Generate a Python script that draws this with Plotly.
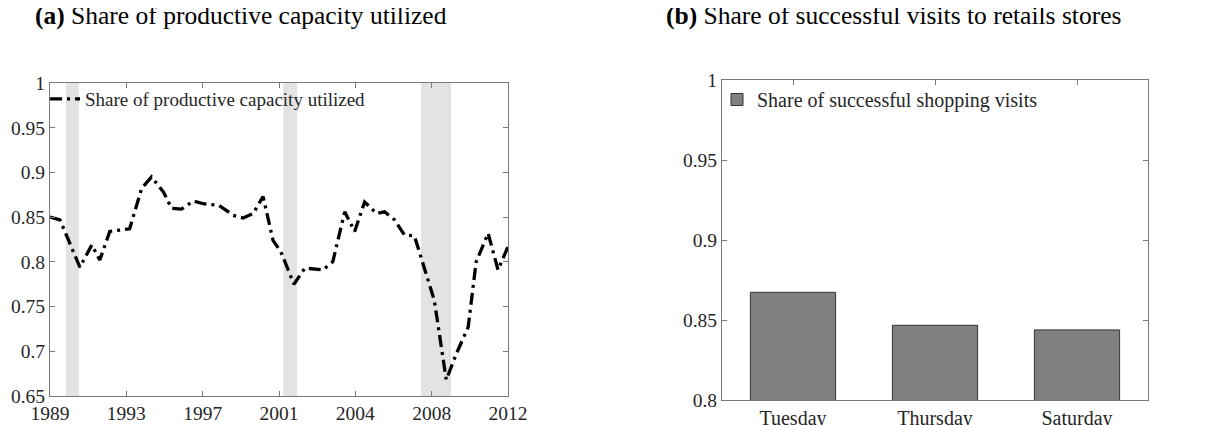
import plotly.graph_objects as go

# ---- Panel (a): share of productive capacity utilized ----
years = [1989.0, 1989.5, 1990.5, 1991.1, 1991.5, 1992.0, 1993.0, 1993.6, 1994.1, 1994.7,
         1995.1, 1995.6, 1996.2, 1996.7, 1997.5, 1998.2, 1998.7, 1999.2, 1999.7, 2000.2,
         2000.6, 2001.25, 2001.8, 2002.7, 2003.2, 2003.8, 2004.3, 2004.8, 2005.4, 2005.8,
         2006.3, 2006.8, 2007.3, 2008.3, 2008.9, 2009.4, 2010.0, 2010.4, 2011.0, 2011.5,
         2012.0]
utilization = [0.850, 0.847, 0.794, 0.819, 0.802, 0.834, 0.837, 0.882, 0.895, 0.878,
               0.860, 0.859, 0.868, 0.865, 0.863, 0.852, 0.849, 0.854, 0.873, 0.824,
               0.811, 0.775, 0.793, 0.791, 0.800, 0.856, 0.834, 0.867, 0.854, 0.856,
               0.847, 0.830, 0.829, 0.757, 0.668, 0.697, 0.727, 0.800, 0.832, 0.791,
               0.817]
recession_start = [1989.80, 2000.71, 2007.63]
recession_end = [1990.46, 2001.41, 2009.14]
year_tickvals = [1989, 1992.833, 1996.667, 2000.5, 2004.333, 2008.167, 2012]
year_ticktext = ["1989", "1993", "1997", "2001", "2004", "2008", "2012"]
util_ticks = [0.65, 0.7, 0.75, 0.8, 0.85, 0.9, 0.95, 1]
util_ticktext = ["0.65", "0.7", "0.75", "0.8", "0.85", "0.9", "0.95", "1"]

# ---- Panel (b): share of successful shopping visits ----
days = ["Tuesday", "Thursday", "Saturday"]
success_share = [0.8673, 0.8467, 0.8438]
success_ticks = [0.8, 0.85, 0.9, 0.95, 1]
success_ticktext = ["0.8", "0.85", "0.9", "0.95", "1"]

# page body adds an 8px margin; figure is sized to fill the rest of the window
OFF = 8
W, H = 1210 - OFF, 425 - OFF
FONT = "Liberation Serif"
AXC = "#7a7a7a"
TXT = "#262626"

def px_x(p):
    return (p - OFF) / W

def px_y(p):
    return 1 - (p - OFF) / H

fig = go.Figure()

fig.add_trace(go.Scatter(
    x=years, y=utilization, mode="lines",
    line=dict(color="black", width=3.3, dash="12px,5px,3px,5px"),
    name="Share of productive capacity utilized",
    xaxis="x", yaxis="y", legend="legend",
))

fig.add_trace(go.Bar(
    x=list(range(len(days))), y=success_share, base=0,
    width=0.6,
    marker=dict(color="#808080", line=dict(color="#333333", width=1)),
    name="Share of successful shopping visits",
    xaxis="x2", yaxis="y2", legend="legend2",
))

shapes = []
for s, e in zip(recession_start, recession_end):
    shapes.append(dict(type="rect", xref="x", yref="y domain", x0=s, x1=e, y0=0, y1=1,
                       fillcolor="#e3e3e3", line=dict(width=0), layer="below"))

axis_common = dict(showline=True, linecolor=AXC, linewidth=1, mirror="ticks",
                   ticks="inside", ticklen=5, tickcolor=AXC, showgrid=False,
                   zeroline=False, automargin=False)
yfont = dict(family=FONT, size=19.5, color=TXT)
x1font = dict(family=FONT, size=19.5, color=TXT)
x2font = dict(family=FONT, size=20, color=TXT)

fig.update_layout(
    width=W, height=H,
    margin=dict(l=0, r=0, t=0, b=0, pad=0, autoexpand=False),
    paper_bgcolor="white", plot_bgcolor="white",
    showlegend=True,
    shapes=shapes,
    xaxis=dict(domain=[px_x(50), px_x(508)], range=[1989, 2012], tickfont=x1font,
               tickvals=year_tickvals, ticktext=year_ticktext, **axis_common),
    yaxis=dict(domain=[px_y(396), px_y(83)], range=[0.65, 1], tickfont=yfont,
               tickvals=util_ticks, ticktext=util_ticktext, **axis_common),
    xaxis2=dict(domain=[px_x(722), px_x(1148)], range=[-0.5, 2.5], tickfont=x2font,
                tickvals=list(range(len(days))), ticktext=days, anchor="y2", **axis_common),
    yaxis2=dict(domain=[px_y(400), px_y(80)], range=[0.8, 1], anchor="x2", tickfont=yfont,
                tickvals=success_ticks, ticktext=success_ticktext, **axis_common),
    legend=dict(x=px_x(45), y=px_y(80), xanchor="left", yanchor="top",
                bgcolor="rgba(0,0,0,0)", borderwidth=0, itemwidth=30,
                font=dict(family=FONT, size=19, color=TXT)),
    legend2=dict(x=px_x(717), y=px_y(80), xanchor="left", yanchor="top",
                 bgcolor="rgba(0,0,0,0)", borderwidth=0, itemwidth=30,
                 font=dict(family=FONT, size=20, color=TXT)),
    annotations=[
        dict(text="<b>(a)</b> Share of productive capacity utilized", x=px_x(241), y=px_y(16),
             xref="paper", yref="paper", xanchor="center", yanchor="middle", showarrow=False,
             font=dict(family=FONT, size=25.5, color="black")),
        dict(text="<b>(b)</b> Share of successful visits to retails stores", x=px_x(893), y=px_y(16),
             xref="paper", yref="paper", xanchor="center", yanchor="middle", showarrow=False,
             font=dict(family=FONT, size=25.5, color="black")),
    ],
)

fig.write_html("out.html")
